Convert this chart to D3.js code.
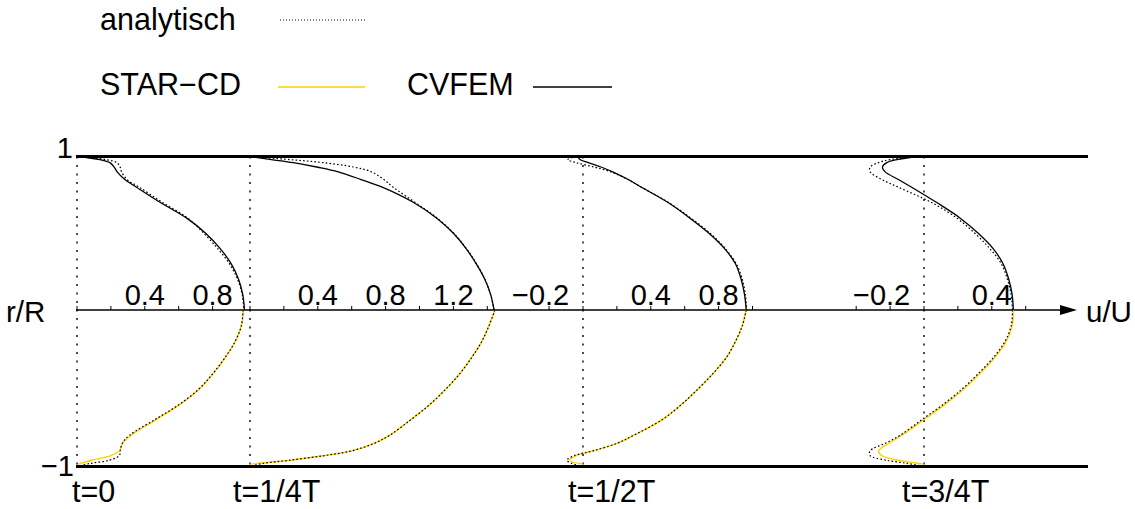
<!DOCTYPE html>
<html>
<head>
<meta charset="utf-8">
<script src="https://cdn.jsdelivr.net/npm/d3@7"></script>
<style>
  html, body { margin: 0; padding: 0; background: #fff; }
  svg { display: block; font-family: "Liberation Sans", Arial, Helvetica, sans-serif; }
</style>
</head>
<body>
<svg id="chart" width="1135" height="509"></svg>
<script>
// ---- data -------------------------------------------------------------
// radial positions r/R for the upper half, the lower half and the STAR-CD cells
const rTop    = [1, 0.98, 0.96, 0.93, 0.9, 0.85, 0.8, 0.7, 0.6, 0.5, 0.4, 0.3, 0.2, 0.1, 0];
const rBottom = [0, -0.1, -0.2, -0.3, -0.4, -0.5, -0.6, -0.7, -0.8, -0.85, -0.9, -0.93, -0.96, -0.98, -1];
const rStar   = [0, -0.1, -0.2, -0.3, -0.4, -0.5, -0.6, -0.7, -0.8, -0.85, -0.9, -0.93, -0.96, -0.985];

const phases = ["t=0", "t=1/4T", "t=1/2T", "t=3/4T"];

// u/U along rTop (CVFEM, upper half)
const cvfem = [
  [0, 0.135, 0.194, 0.22, 0.237, 0.282, 0.351, 0.492, 0.645, 0.759, 0.845, 0.91, 0.953, 0.978, 0.988],
  [0, 0.127, 0.255, 0.4, 0.52, 0.655, 0.78, 0.965, 1.1, 1.2, 1.275, 1.335, 1.385, 1.42, 1.44],
  [-0.03, -0.018, 0.031, 0.11, 0.175, 0.267, 0.345, 0.502, 0.629, 0.743, 0.835, 0.9, 0.933, 0.953, 0.963],
  [-0.03, -0.161, -0.22, -0.245, -0.229, -0.151, -0.073, 0.075, 0.212, 0.32, 0.408, 0.467, 0.5, 0.52, 0.527]
];

// u/U along rTop (analytical solution, upper half)
const analyticTop = [
  [0, 0.17, 0.235, 0.255, 0.263, 0.295, 0.368, 0.505, 0.652, 0.748, 0.83, 0.9, 0.947, 0.975, 0.984],
  [0, 0.235, 0.431, 0.618, 0.716, 0.79, 0.845, 0.975, 1.103, 1.202, 1.277, 1.337, 1.386, 1.42, 1.44],
  [-0.04, -0.09, -0.04, 0.07, 0.165, 0.265, 0.345, 0.505, 0.635, 0.75, 0.84, 0.905, 0.94, 0.958, 0.965],
  [-0.02, -0.2, -0.269, -0.318, -0.318, -0.249, -0.151, 0.045, 0.192, 0.3, 0.388, 0.457, 0.492, 0.514, 0.522]
];

// u/U along rBottom (analytical solution, lower half)
const analyticBottom = [
  [0.98, 0.97, 0.933, 0.876, 0.806, 0.724, 0.608, 0.46, 0.31, 0.268, 0.255, 0.25, 0.19, 0.08, 0],
  [1.445, 1.41, 1.368, 1.31, 1.243, 1.16, 1.065, 0.95, 0.825, 0.737, 0.6, 0.44, 0.235, 0.078, 0],
  [0.963, 0.94, 0.9, 0.848, 0.772, 0.683, 0.585, 0.468, 0.3, 0.205, 0.06, -0.05, -0.095, -0.065, 0],
  [0.522, 0.515, 0.478, 0.412, 0.326, 0.23, 0.117, -0.012, -0.14, -0.225, -0.318, -0.318, -0.22, -0.1, 0]
];

// u/U along rStar (STAR-CD, lower half)
const starcd = [
  [0.98, 0.97, 0.935, 0.878, 0.808, 0.726, 0.612, 0.466, 0.32, 0.27, 0.25, 0.2, 0.086, 0.005],
  [1.445, 1.41, 1.368, 1.31, 1.243, 1.16, 1.065, 0.95, 0.825, 0.737, 0.6, 0.44, 0.235, 0],
  [0.963, 0.94, 0.9, 0.848, 0.772, 0.683, 0.585, 0.468, 0.3, 0.205, 0.06, -0.04, -0.08, 0],
  [0.527, 0.52, 0.485, 0.42, 0.335, 0.24, 0.128, 0, -0.13, -0.205, -0.268, -0.25, -0.151, 0]
];

// axis ticks and labelled ticks of each profile
const tickValues = [
  [0, 0.2, 0.4, 0.6, 0.8],
  [0, 0.2, 0.4, 0.6, 0.8, 1.0, 1.2, 1.4],
  [-0.2, 0, 0.2, 0.4, 0.6, 0.8, 1.0],
  [-0.4, -0.2, 0, 0.2, 0.4, 0.6]
];
const tickLabels = [
  [0.4, 0.8],
  [0.4, 0.8, 1.2],
  [-0.2, 0.4, 0.8],
  [-0.2, 0.4]
];

const legendItems = ["analytisch", "STAR\u2212CD", "CVFEM"];

// ---- layout -----------------------------------------------------------
const origins = [77, 250, 583, 924];        // x of u=0 for each profile
const unitPx = 169.5;                       // pixels per unit of u/U
const phaseLabelX = [72, 233, 568, 902];
const xStart = 76, xEnd = 1088, arrowTip = 1077;
const yellow = "#ffd200";

const svg = d3.select("#chart");
const y = d3.scaleLinear().domain([-1, 0, 1]).range([466.5, 310, 156.5]);
const xScales = origins.map(o => d3.scaleLinear().domain([0, 1]).range([o, o + unitPx]));

const fmt = v => (v < 0 ? "\u2212" : "") + Math.abs(v).toFixed(1);

// vertical zero lines of each profile
svg.append("g").selectAll("line").data(xScales).join("line")
  .attr("x1", s => s(0)).attr("x2", s => s(0))
  .attr("y1", y(1)).attr("y2", y(-1))
  .attr("stroke", "#000").attr("stroke-width", 1.4)
  .attr("stroke-dasharray", "2,6.5");

// pipe walls
svg.append("g").selectAll("line").data([1, -1]).join("line")
  .attr("x1", xStart).attr("x2", xEnd)
  .attr("y1", d => y(d)).attr("y2", d => y(d))
  .attr("stroke", "#000").attr("stroke-width", 3);

// centre line with arrow
svg.append("line")
  .attr("x1", xStart).attr("x2", arrowTip - 14)
  .attr("y1", y(0)).attr("y2", y(0))
  .attr("stroke", "#000").attr("stroke-width", 1.3);
svg.append("path")
  .attr("d", `M${arrowTip},${y(0)} L${arrowTip - 17},${y(0) - 5} L${arrowTip - 17},${y(0) + 5} Z`)
  .attr("fill", "#000");

// ticks and tick labels
xScales.forEach((s, i) => {
  const g = svg.append("g");
  g.selectAll("line").data(tickValues[i]).join("line")
    .attr("x1", d => s(d)).attr("x2", d => s(d))
    .attr("y1", y(0) - 4).attr("y2", y(0))
    .attr("stroke", "#000").attr("stroke-width", 1);
  g.selectAll("text").data(tickLabels[i]).join("text")
    .attr("x", d => s(d)).attr("y", y(0) - 5)
    .attr("dx", d => d < 0 ? "-0.292em" : 0)
    .attr("text-anchor", "middle")
    .attr("font-size", 29)
    .text(fmt);
});

// profiles
const line = d3.line().curve(d3.curveCatmullRom.alpha(0.5));
function drawProfile(s, rs, us, attrs) {
  const p = svg.append("path")
    .attr("d", line(rs.map((r, k) => [s(us[k]), y(r)])))
    .attr("fill", "none");
  Object.entries(attrs).forEach(([k, v]) => p.attr(k, v));
}
xScales.forEach((s, i) => {
  drawProfile(s, rTop, cvfem[i], { stroke: "#000", "stroke-width": 1.3 });
  drawProfile(s, rTop, analyticTop[i], { stroke: "#000", "stroke-width": 1.2, "stroke-dasharray": "1.6,2.2" });
  drawProfile(s, rStar, starcd[i], { stroke: yellow, "stroke-width": 1.4 });
  drawProfile(s, rBottom, analyticBottom[i], { stroke: "#000", "stroke-width": 1.2, "stroke-dasharray": "1.6,2.2" });
});

// axis texts
const txt = (x, yy, t, anchor, size) => svg.append("text")
  .attr("x", x).attr("y", yy).attr("text-anchor", anchor || "start")
  .attr("font-size", size || 30.5).text(t);

txt(73, y(1) + 1, "1", "end", 29);
txt(74, y(-1) + 9, "\u22121", "end", 29);
txt(6, 322, "r/R", "start", 29.5);
txt(1086, 322, "u/U", "start", 29.5);
phases.forEach((p, i) => txt(phaseLabelX[i], 502, p, "start", 30.5));

// legend
txt(100, 30, legendItems[0]);
txt(100, 95, legendItems[1]);
txt(407, 95, legendItems[2]);
svg.append("line").attr("x1", 280).attr("x2", 365).attr("y1", 20).attr("y2", 20)
  .attr("stroke", "#000").attr("stroke-width", 1).attr("stroke-dasharray", "1,2");
svg.append("line").attr("x1", 278).attr("x2", 365).attr("y1", 87).attr("y2", 87)
  .attr("stroke", yellow).attr("stroke-width", 1.5);
svg.append("line").attr("x1", 533).attr("x2", 612).attr("y1", 87).attr("y2", 87)
  .attr("stroke", "#000").attr("stroke-width", 1.3);
</script>
</body>
</html>
